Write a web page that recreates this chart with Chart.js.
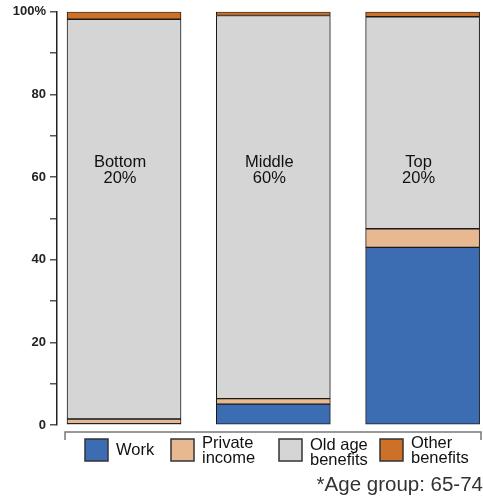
<!DOCTYPE html>
<html>
<head>
<meta charset="utf-8">
<script src="https://cdn.jsdelivr.net/npm/chart.js@4"></script>
<style>
  html, body { margin: 0; padding: 0; background: #fff; overflow: hidden; }
</style>
</head>
<body>
<canvas id="chart" width="483" height="497"></canvas>
<script>
// groups (income quintile bands)
const groups = ['Bottom\n20%', 'Middle\n60%', 'Top\n20%'];
// share of income by source, percent
const work = [0.3, 5.05, 43.0];
const privateIncome = [1.15, 1.35, 4.5];
const oldAge = [96.75, 92.7, 51.3];
const otherBenefits = [1.8, 0.9, 1.2];

const seriesNames = [['Work'], ['Private', 'income'], ['Old age', 'benefits'], ['Other', 'benefits']];
const seriesColors = ['#3c6db3', '#e8b891', '#d5d5d5', '#cd7129'];
const footnote = '*Age group: 65-74';

const toPoints = (arr) => arr.map((v, i) => ({ x: i, y: v }));

const allSeries = [work, privateIncome, oldAge, otherBenefits];
const datasets = allSeries.map((vals, k) => ({
  label: seriesNames[k].join(' '),
  data: toPoints(vals),
  backgroundColor: seriesColors[k],
  borderColor: '#1a1a1a',
  borderWidth: 1,
  borderSkipped: false,
  barThickness: 114,
}));

const FONT = "'Liberation Sans', Arial, Helvetica, sans-serif";

// group names inside bars, bracket under bars, legend and footnote
const decorations = {
  id: 'decorations',
  afterDatasetsDraw(chart) {
    const { ctx, chartArea } = chart;
    const xs = chart.scales.x;
    const ys = chart.scales.y;
    ctx.save();

    // labels inside bars
    ctx.fillStyle = '#111';
    ctx.font = '16.5px ' + FONT;
    ctx.textAlign = 'center';
    ctx.textBaseline = 'middle';
    groups.forEach((g, i) => {
      const cx = xs.getPixelForValue(i) - 4;
      const y0 = ys.getPixelForValue(63.6);
      g.split('\n').forEach((line, j) => ctx.fillText(line, cx, y0 + j * 16));
    });

    // bracket
    const bl = xs.getPixelForValue(0) - 59;
    const br = chartArea.right;
    const by = chartArea.bottom + 7;
    ctx.strokeStyle = '#777';
    ctx.lineWidth = 1.5;
    ctx.beginPath();
    ctx.moveTo(bl, by + 8);
    ctx.lineTo(bl, by);
    ctx.lineTo(br, by);
    ctx.lineTo(br, by + 8);
    ctx.stroke();

    // legend
    const boxX = [85, 171, 279, 380];
    const boxY = by + 7;
    ctx.font = '16.5px ' + FONT;
    ctx.textAlign = 'left';
    seriesNames.forEach((lines, k) => {
      ctx.fillStyle = seriesColors[k];
      ctx.fillRect(boxX[k], boxY, 23, 22);
      ctx.strokeStyle = '#333';
      ctx.lineWidth = 1.5;
      ctx.strokeRect(boxX[k], boxY, 23, 22);
      ctx.fillStyle = '#111';
      const mid = boxY + 11.5;
      if (lines.length === 1) {
        ctx.fillText(lines[0], boxX[k] + 31, mid);
      } else {
        const off = k === 2 ? 2 : 0;
        ctx.fillText(lines[0], boxX[k] + 31, mid - 7.5 + off);
        ctx.fillText(lines[1], boxX[k] + 31, mid + 7.5 + off);
      }
    });

    // footnote
    ctx.font = '20.5px ' + FONT;
    ctx.fillStyle = '#333';
    ctx.textAlign = 'right';
    ctx.fillText(footnote, 483, 485);
    ctx.restore();
  }
};

new Chart(document.getElementById('chart'), {
  type: 'bar',
  data: { datasets },
  options: {
    responsive: false,
    animation: false,
    layout: { padding: { top: 10, right: 2, bottom: 72, left: 0 } },
    plugins: {
      legend: { display: false },
      tooltip: { enabled: false },
    },
    scales: {
      x: {
        type: 'linear',
        stacked: true,
        offset: false,
        min: -0.449,
        max: 2.391,
        display: false,
      },
      y: {
        stacked: true,
        min: 0,
        max: 100,
        afterFit(scale) { scale.width = 57; },
        border: { display: true, color: '#222', width: 1.5 },
        grid: {
          drawOnChartArea: false,
          drawTicks: true,
          tickLength: 7,
          color: '#555',
          lineWidth: 1.5,
        },
        ticks: {
          stepSize: 10,
          padding: 4,
          color: '#222',
          font: { family: FONT, size: 13, weight: 'bold' },
          callback: (v) => (v % 20 === 0 ? (v === 100 ? '100%' : String(v)) : ''),
        },
      },
    },
  },
  plugins: [decorations],
});
</script>
</body>
</html>
